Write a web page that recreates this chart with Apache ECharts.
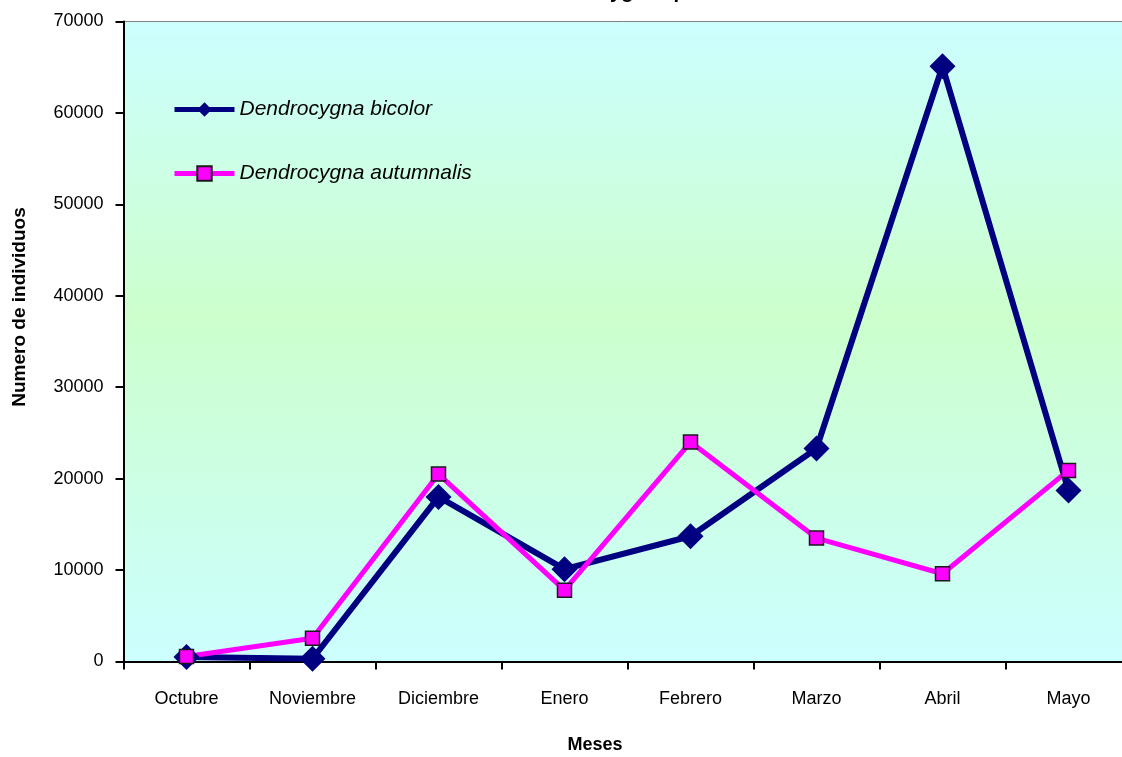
<!DOCTYPE html>
<html>
<head>
<meta charset="utf-8">
<script src="https://cdn.jsdelivr.net/npm/echarts@6/dist/echarts.min.js"></script>
<style>
  html, body { margin: 0; padding: 0; background: #ffffff; }
  #chart { width: 1122px; height: 757px; }
</style>
</head>
<body>
<div id="chart"></div>
<script>
// Monthly counts of whistling ducks (Dendrocygna), October to May
const months = ['Octubre', 'Noviembre', 'Diciembre', 'Enero', 'Febrero', 'Marzo', 'Abril', 'Mayo'];
const bicolor = [500, 300, 18000, 10100, 13700, 23300, 65100, 18700];
const autumnalis = [550, 2550, 20500, 7800, 24000, 13500, 9600, 20900];
const seriesNames = ['Dendrocygna bicolor', 'Dendrocygna autumnalis'];
const yMin = 0, yMax = 70000, yStep = 10000;

const SANS = "'Liberation Sans', Arial, sans-serif";

const chart = echarts.init(document.getElementById('chart'), null, { renderer: 'canvas' });

chart.setOption({
  animation: false,
  backgroundColor: '#ffffff',
  title: {
    text: 'Dendrocygna sp.',
    left: 529,
    top: -18,
    padding: 0,
    textStyle: { fontFamily: SANS, fontSize: 20, fontWeight: 'bold', color: '#000' }
  },
  grid: {
    left: 123.5,
    top: 21.5,
    width: 1008,
    height: 640,
    outerBoundsMode: 'none',
    containLabel: false,
    show: true,
    borderColor: '#808080',
    borderWidth: 1,
    backgroundColor: {
      type: 'linear', x: 0, y: 0, x2: 0, y2: 1,
      colorStops: [
        { offset: 0, color: '#ccffff' },
        { offset: 0.46, color: '#ccffcc' },
        { offset: 1, color: '#ccffff' }
      ]
    }
  },
  legend: {
    orient: 'vertical',
    left: 172,
    top: 99,
    padding: 0,
    itemWidth: 60,
    itemHeight: 18,
    itemGap: 43,
    data: seriesNames,
    lineStyle: { width: 5 },
    textStyle: { fontFamily: SANS, fontSize: 21, fontStyle: 'italic', color: '#000' }
  },
  xAxis: {
    type: 'category',
    data: months,
    boundaryGap: true,
    axisLine: { lineStyle: { color: '#000', width: 2 } },
    axisTick: { show: true, inside: false, length: 8, lineStyle: { color: '#000', width: 2 } },
    axisLabel: { margin: 29, fontFamily: SANS, fontSize: 18, color: '#000' },
    splitLine: { show: false }
  },
  yAxis: {
    type: 'value',
    min: yMin,
    max: yMax,
    interval: yStep,
    axisLine: { show: true, lineStyle: { color: '#000', width: 2 } },
    axisTick: { show: true, inside: false, length: 8, lineStyle: { color: '#000', width: 2 } },
    axisLabel: {
      margin: 20, fontFamily: SANS, fontSize: 18, color: '#000',
      formatter: function (v) { return String(v); }
    },
    splitLine: { show: false }
  },
  graphic: [
    {
      type: 'text',
      x: 20, y: 307,
      rotation: Math.PI / 2,
      style: {
        text: 'Numero de individuos',
        fontFamily: SANS, fontSize: 19, fontWeight: 'bold', fill: '#000',
        align: 'center', verticalAlign: 'middle'
      }
    },
    {
      type: 'text',
      x: 595, y: 745,
      style: {
        text: 'Meses',
        fontFamily: SANS, fontSize: 18, fontWeight: 'bold', fill: '#000',
        align: 'center', verticalAlign: 'middle'
      }
    }
  ],
  series: [
    {
      name: seriesNames[0],
      type: 'line',
      data: bicolor,
      symbol: 'diamond',
      symbolSize: 26,
      lineStyle: { color: '#000080', width: 6 },
      itemStyle: { color: '#000080', borderWidth: 0 }
    },
    {
      name: seriesNames[1],
      type: 'line',
      data: autumnalis,
      symbol: 'rect',
      symbolSize: 14,
      lineStyle: { color: '#ff00ff', width: 5 },
      itemStyle: { color: '#ff00ff', borderColor: '#1a1a1a', borderWidth: 1.5 }
    }
  ]
});
</script>
</body>
</html>
